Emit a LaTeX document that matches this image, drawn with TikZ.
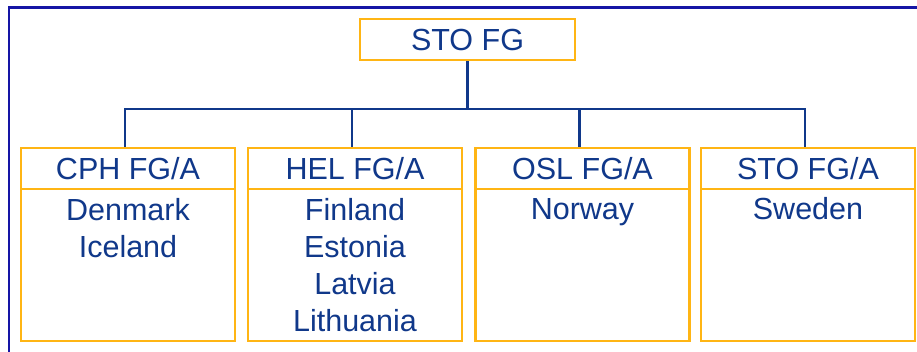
\documentclass[tikz,border=0pt]{standalone}
\usepackage{fontspec}
\setmainfont{Liberation Sans}
\definecolor{navy}{HTML}{10388A}
\definecolor{framebl}{HTML}{1515A5}
\definecolor{gold}{HTML}{FFB514}
\begin{document}
\begin{tikzpicture}[x=1pt,y=-1pt,
  every node/.style={font=\fontsize{30.5}{37}\selectfont, text=navy},
  unitbox/.style={draw=gold, line width=2.8pt, inner sep=0pt, fill=white, minimum width=214pt},
  headbox/.style={unitbox, minimum height=41pt, text height=22pt, text depth=0pt},
  bodybox/.style={unitbox, minimum height=152pt},
  bodytext/.style={anchor=north, inner sep=0pt, align=center},
  conn/.style={draw=navy, line width=2.1pt}]
\useasboundingbox (0,0) rectangle (917,351);
\clip (0,0) rectangle (917,351);
\fill[white] (0,0) rectangle (917,351);
% outer frame, running past the right and bottom edges
\draw[framebl, line width=2.7pt] (9,7.5) rectangle (960,380);

% head of the organisation
\node[headbox, minimum width=215pt] (top) at (467.5,39.5) {STO FG};

% subordinate units: header boxes
\node[headbox] (h1) at (128,168.5) {CPH FG/A};
\node[headbox] (h2) at (355,168.5) {HEL FG/A};
\node[headbox] (h3) at (582.5,168.5) {OSL FG/A};
\node[headbox] (h4) at (808,168.5) {STO FG/A};

% subordinate units: body boxes
\node[bodybox] (b1) at (128,265) {};
\node[bodybox] (b2) at (355,265) {};
\node[bodybox] (b3) at (582.5,265) {};
\node[bodybox] (b4) at (808,265) {};

% countries covered by each unit
\node[bodytext] (t1) at (b1.north |- 0,198) {Denmark\\Iceland};
\node[bodytext] (t2) at (b2.north |- 0,198) {Finland\\Estonia\\Latvia\\Lithuania};
\node[bodytext] (t3) at (b3.north |- 0,198) {Norway};
\node[bodytext] (t4) at (b4.north |- 0,197) {Sweden};

% connectors
\coordinate (bus) at (466,109);
\draw[conn] (top.south) -- (top.south |- bus);
\draw[conn] ([xshift=-3pt]h1.north) |- (bus) -| ([xshift=-3pt]h4.north);
\draw[conn] ([xshift=-3pt]h2.north) -- ([xshift=-3pt]h2.north |- bus);
\draw[conn] ([xshift=-3pt]h3.north) -- ([xshift=-3pt]h3.north |- bus);
\end{tikzpicture}
\end{document}
